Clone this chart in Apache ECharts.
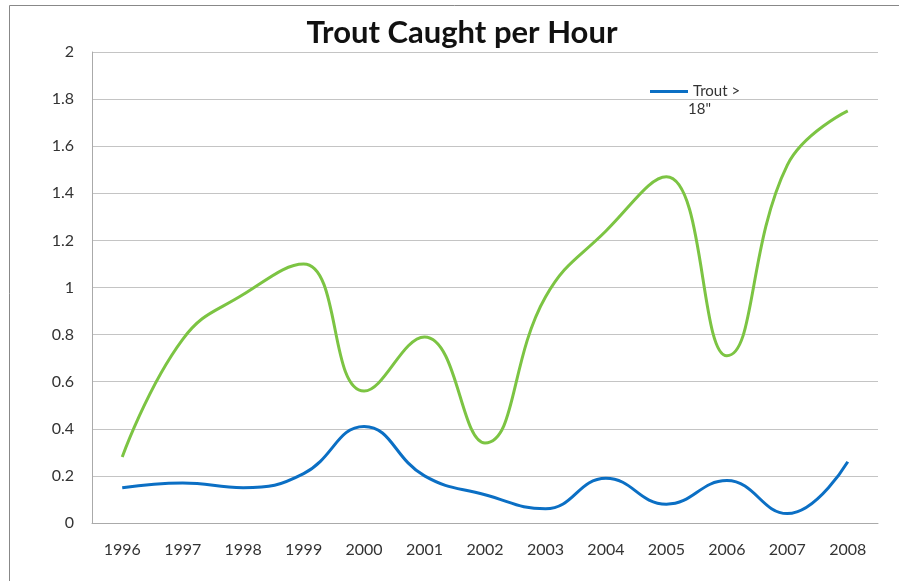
<!DOCTYPE html>
<html>
<head>
<meta charset="utf-8">
<script src="https://cdn.jsdelivr.net/npm/echarts@6/dist/echarts.min.js"></script>
<style>
html, body { margin: 0; padding: 0; background: #fff; }
#chart { width: 899px; height: 581px; }
</style>
</head>
<body>
<div id="chart"></div>
<script>
var years = ['1996', '1997', '1998', '1999', '2000', '2001', '2002', '2003', '2004', '2005', '2006', '2007', '2008'];
var allTrout = [0.28, 0.78, 0.97, 1.10, 0.56, 0.79, 0.34, 0.96, 1.24, 1.47, 0.71, 1.52, 1.75];
var bigTrout = [0.15, 0.17, 0.15, 0.21, 0.41, 0.20, 0.12, 0.06, 0.19, 0.08, 0.18, 0.04, 0.26];
var yTicks = [0, 0.2, 0.4, 0.6, 0.8, 1, 1.2, 1.4, 1.6, 1.8, 2];

var myChart = echarts.init(document.getElementById('chart'));

option = {
	backgroundColor: '#fff',
	animation: false,
	title: {
		text: 'Trout Caught per Hour',
		left: 457,
		textAlign: 'center',
		top: 12,
		textStyle: {
			fontFamily: 'Lato',
			fontWeight: 'bold',
			fontSize: 31,
			color: '#111'
		}
	},
	legend: {
		data: ['Trout > 18"'],
		left: 645,
		top: 79,
		itemWidth: 38,
		itemHeight: 3,
		itemGap: 4,
		icon: 'rect',
		formatter: function () { return 'Trout >'; },
		textStyle: {
			fontFamily: 'Lato',
			fontSize: 15,
			color: '#333'
		}
	},
	graphic: [{
		type: 'rect',
		shape: { x: 9.5, y: 5.5, width: 1000, height: 1000 },
		style: { fill: 'none', stroke: '#888', lineWidth: 1 }
	}, {
		// second line of the wrapped legend label
		type: 'text',
		left: 688,
		top: 102,
		style: { text: '18"', fill: '#333', font: '15px Lato' }
	}],
	grid: {
		left: 92,
		right: 21,
		top: 52,
		bottom: 58
	},
	xAxis: {
		type: 'category',
		boundaryGap: true,
		data: years,
		axisLine: { lineStyle: { color: '#aaa' } },
		axisTick: { show: false },
		axisLabel: {
			margin: 19,
			fontFamily: 'Lato',
			fontSize: 16,
			color: '#333'
		}
	},
	yAxis: {
		type: 'value',
		min: 0,
		max: 2,
		interval: 0.2,
		axisLine: { show: true, lineStyle: { color: '#aaa' } },
		axisTick: { show: false },
		axisLabel: {
			margin: 18,
			fontFamily: 'Lato',
			fontSize: 16,
			color: '#333',
			formatter: function (v) {
				for (var i = 0; i < yTicks.length; i++) {
					if (Math.abs(yTicks[i] - v) < 1e-6) return String(yTicks[i]);
				}
				return '';
			}
		},
		splitLine: { lineStyle: { color: '#c4c4c4', width: 1 } }
	},
	series: [{
		name: 'All trout',
		type: 'line',
		smooth: 0.45,
		symbol: 'none',
		data: allTrout,
		lineStyle: { color: '#7cc443', width: 3 },
		itemStyle: { color: '#7cc443' }
	}, {
		name: 'Trout > 18"',
		type: 'line',
		smooth: 0.45,
		symbol: 'none',
		data: bigTrout,
		lineStyle: { color: '#0b6fc4', width: 3 },
		itemStyle: { color: '#0b6fc4' }
	}]
};

myChart.setOption(option);
</script>
</body>
</html>
